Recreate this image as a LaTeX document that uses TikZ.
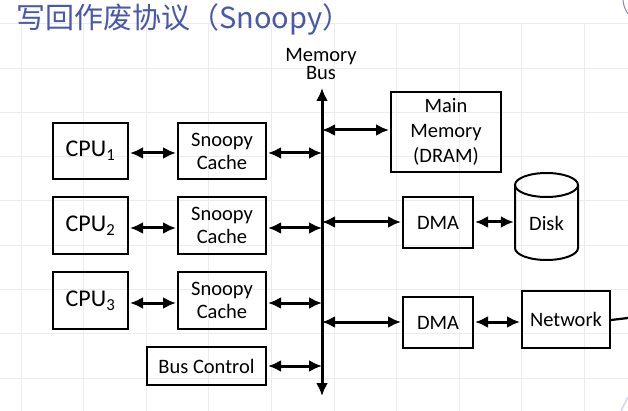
\documentclass[tikz,border=0pt]{standalone}
\usepackage{fontspec}
\setmainfont{Carlito}
\newfontfamily\cjk{Noto Sans CJK SC}
\usetikzlibrary{arrows.meta}
\definecolor{titleblue}{RGB}{72,88,170}
\definecolor{gridgray}{RGB}{236,236,236}
\tikzset{
  box/.style={draw, line width=2pt, inner sep=0pt, align=center, font=\fontsize{20.5}{23}\selectfont},
  cpubox/.style={box, font=\fontsize{24}{28}\selectfont},
  link/.style={line width=3pt, {Latex[length=13pt,width=12pt]}-{Latex[length=13pt,width=12pt]}, shorten <=1pt, shorten >=1pt},
  plain/.style={line width=2.2pt},
  lbl/.style={align=center, inner sep=0pt, font=\fontsize{20.5}{18.5}\selectfont}
}
\begin{document}
\begin{tikzpicture}[x=1pt,y=-1pt]
\useasboundingbox (0,0) rectangle (628,411);
\fill[white] (0,0) rectangle (628,411);
% grid
\foreach \k in {0,...,9} \draw[gridgray, line width=1pt] ({21+62.6*\k},24) -- ({21+62.6*\k},411);
\foreach \k in {0,...,8} \draw[gridgray, line width=1pt] (0,{24+44.25*\k}) -- (628,{24+44.25*\k});
% title
\node[anchor=west, inner sep=0pt, text=titleblue, font=\cjk\fontsize{29}{32}\selectfont] (title) at (16,19) {写回作废协议（Snoopy）};
% artifacts at the edge
\draw[titleblue!70, line width=1pt] (623,0) .. controls (624,7) .. (628,14);
\draw[titleblue!25, line width=1.5pt] (621,411) -- (628,397);
% nodes
\node[cpubox, minimum width=75pt, minimum height=56pt] (cpu1) at (90.5,151) {CPU\textsubscript{1}};
\node[cpubox, minimum width=75pt, minimum height=57pt] (cpu2) at (90.5,225.5) {CPU\textsubscript{2}};
\node[cpubox, minimum width=75pt, minimum height=57pt] (cpu3) at (90.5,300.5) {CPU\textsubscript{3}};
\node[box, minimum width=88pt, minimum height=56pt] (c1) at (222,151) {Snoopy\\Cache};
\node[box, minimum width=88pt, minimum height=57pt] (c2) at (222,225.5) {Snoopy\\Cache};
\node[box, minimum width=88pt, minimum height=57pt] (c3) at (222,300.5) {Snoopy\\Cache};
\node[box, minimum width=119pt, minimum height=38pt] (bc) at (206.5,366) {Bus Control};
\node[box, minimum width=110pt, minimum height=80pt, font=\fontsize{20.5}{25}\selectfont] (mm) at (446,132) {Main\\Memory\\(DRAM)};
\node[box, minimum width=70pt, minimum height=51pt] (dma1) at (438,222.5) {DMA};
\node[box, minimum width=70pt, minimum height=51pt] (dma2) at (438,322.5) {DMA};
\node[box, minimum width=88pt, minimum height=57pt] (net) at (566,319.5) {Network};
% disk cylinder
\node[inner sep=0pt, minimum width=63pt, minimum height=50pt, font=\fontsize{20.5}{23}\selectfont] (disk) at (546.5,223) {Disk};
\draw[line width=2pt] (515,185) -- (515,248) arc[start angle=180, end angle=360, x radius=31.5, y radius=-12] -- (578,185);
\draw[line width=2pt] (546.5,185) ellipse[x radius=31.5, y radius=12];
% bus
\node[lbl] (buslbl) at (321,64) {Memory\\Bus};
\coordinate (bustop) at (322,88);
\coordinate (busbot) at (322,396);
\draw[line width=3pt, {Latex[length=13pt,width=12pt]}-{Latex[length=13pt,width=12pt]}] (bustop) -- (busbot);
\coordinate (b1) at (322,153);
\coordinate (b2) at (322,228);
\coordinate (b3) at (322,303);
\coordinate (b4) at (322,366);
\coordinate (bm) at (322,130);
\coordinate (bd1) at (322,222);
\coordinate (bd2) at (322,322);
% connectors
\draw[link] (cpu1.east |- 0,153) -- (c1.west |- 0,153);
\draw[link] (cpu2.east |- 0,228) -- (c2.west |- 0,228);
\draw[link] (cpu3.east |- 0,303) -- (c3.west |- 0,303);
\draw[link, shorten >=0pt] (c1.east |- b1) -- (b1);
\draw[link, shorten >=0pt] (c2.east |- b2) -- (b2);
\draw[link, shorten >=0pt] (c3.east |- b3) -- (b3);
\draw[link, shorten >=0pt] (bc.east |- b4) -- (b4);
\draw[link, shorten <=0pt] (bm) -- (mm.west |- bm);
\draw[link, shorten <=0pt] (bd1) -- (dma1.west |- bd1);
\draw[link, shorten <=0pt] (bd2) -- (dma2.west |- bd2);
\draw[link] (dma1.east |- bd1) -- (disk.west |- bd1);
\draw[link] (dma2.east |- bd2) -- (net.west |- bd2);
\coordinate (netout) at (628,318);
\draw[plain] (net.east |- 0,320) -- (netout);
\end{tikzpicture}
\end{document}
